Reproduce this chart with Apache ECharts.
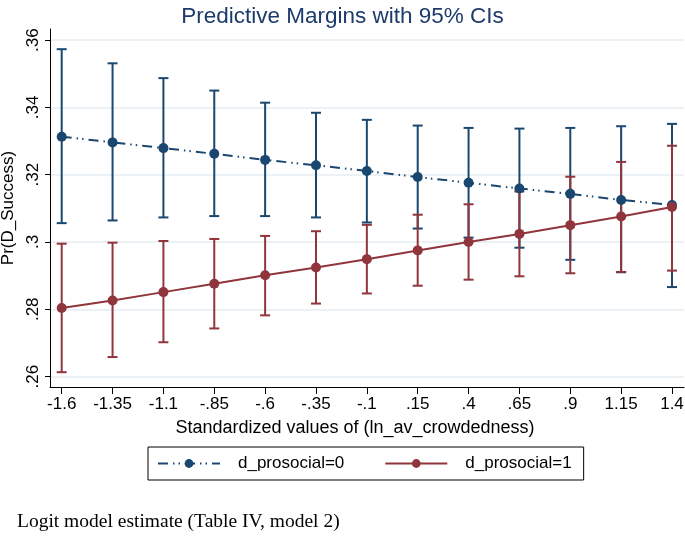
<!DOCTYPE html>
<html>
<head>
<meta charset="utf-8">
<script src="https://cdn.jsdelivr.net/npm/echarts@6/dist/echarts.min.js"></script>
<style>
  html, body { margin: 0; padding: 0; background: #fff; }
  #main { width: 685px; height: 537px; }
</style>
</head>
<body>
<div id="main"></div>
<script>
// x values (standardized ln_av_crowdedness) and their Stata-style labels
var xs = [-1.6, -1.35, -1.1, -0.85, -0.6, -0.35, -0.1, 0.15, 0.4, 0.65, 0.9, 1.15, 1.4];
var xLabels = ["-1.6", "-1.35", "-1.1", "-.85", "-.6", "-.35", "-.1", ".15", ".4", ".65", ".9", "1.15", "1.4"];
var yTicks = [0.26, 0.28, 0.30, 0.32, 0.34, 0.36];
var yLabels = [".26", ".28", ".3", ".32", ".34", ".36"];

// d_prosocial = 0
var est0 = [0.3313, 0.3296, 0.3279, 0.3262, 0.3244, 0.3228, 0.3211, 0.3193, 0.3176, 0.3159, 0.3143, 0.3125, 0.3110];
var lo0  = [0.3056, 0.3064, 0.3073, 0.3077, 0.3077, 0.3073, 0.3058, 0.3040, 0.3013, 0.2983, 0.2947, 0.2910, 0.2866];
var hi0  = [0.3573, 0.3531, 0.3487, 0.3450, 0.3414, 0.3384, 0.3363, 0.3346, 0.3339, 0.3337, 0.3339, 0.3344, 0.3351];

// d_prosocial = 1
var est1 = [0.2804, 0.2826, 0.2851, 0.2876, 0.2901, 0.2924, 0.2949, 0.2975, 0.3000, 0.3024, 0.3050, 0.3076, 0.3104];
var lo1  = [0.2613, 0.2658, 0.2702, 0.2743, 0.2782, 0.2817, 0.2847, 0.2870, 0.2888, 0.2898, 0.2907, 0.2911, 0.2915];
var hi1  = [0.2995, 0.2998, 0.3003, 0.3009, 0.3018, 0.3032, 0.3051, 0.3081, 0.3112, 0.3150, 0.3194, 0.3238, 0.3286];

var navy = "#1a476f";
var maroon = "#90353b";
var font = "Liberation Sans, Arial, sans-serif";

function pairs(ys) {
  return xs.map(function (x, i) { return [x, ys[i]]; });
}
function ciData(lo, hi) {
  return xs.map(function (x, i) { return [x, lo[i], hi[i]]; });
}

// vertical range bar with caps
function rcap(color) {
  return function (params, api) {
    var x = api.value(0);
    var a = api.coord([x, api.value(1)]);
    var b = api.coord([x, api.value(2)]);
    var hw = 5;
    var st = { stroke: color, lineWidth: 2 };
    return {
      type: "group",
      children: [
        { type: "line", shape: { x1: a[0], y1: a[1], x2: b[0], y2: b[1] }, style: st },
        { type: "line", shape: { x1: a[0] - hw, y1: a[1], x2: a[0] + hw, y2: a[1] }, style: st },
        { type: "line", shape: { x1: b[0] - hw, y1: b[1], x2: b[0] + hw, y2: b[1] }, style: st }
      ]
    };
  };
}

var chart = echarts.init(document.getElementById("main"));

chart.setOption({
  backgroundColor: "#fff",
  animation: false,
  title: [
    {
      text: "Predictive Margins with 95% CIs",
      left: "center",
      top: 0,
      textStyle: { fontFamily: font, fontSize: 22.5, fontWeight: "normal", color: "#1c3b6b" }
    },
    {
      text: "Logit model estimate (Table IV, model 2)",
      left: 12,
      top: 507,
      textStyle: { fontFamily: "Liberation Serif, Times New Roman, serif", fontSize: 19.5, fontWeight: "normal", color: "#000" }
    }
  ],
  grid: { left: 50, right: 1, top: 29, bottom: 150, outerBoundsMode: "none", containLabel: false },
  xAxis: {
    type: "value",
    min: -1.6575,
    max: 1.459,
    name: "Standardized values of (ln_av_crowdedness)",
    nameLocation: "middle",
    nameGap: 32,
    nameTextStyle: { fontFamily: font, fontSize: 18, color: "#000", padding: [0, 24, 0, 0] },
    axisLine: { show: true, onZero: false, lineStyle: { color: "#000", width: 1 } },
    axisTick: { show: true, customValues: xs, length: 7, lineStyle: { color: "#000" } },
    axisLabel: {
      customValues: xs,
      fontFamily: font,
      fontSize: 17,
      color: "#000",
      margin: 9,
      formatter: function (v) {
        var i = xs.findIndex(function (x) { return Math.abs(x - v) < 1e-6; });
        return i >= 0 ? xLabels[i] : "";
      }
    },
    splitLine: { show: false }
  },
  yAxis: {
    type: "value",
    min: 0.2569,
    max: 0.3633,
    name: "Pr(D_Success)",
    nameLocation: "middle",
    nameRotate: 90,
    nameGap: 25,
    nameTextStyle: { fontFamily: font, fontSize: 17, color: "#000" },
    axisLine: { show: true, onZero: false, lineStyle: { color: "#000", width: 1 } },
    axisTick: { show: true, customValues: yTicks, length: 5, lineStyle: { color: "#000" } },
    axisLabel: {
      customValues: yTicks,
      rotate: 90,
      fontFamily: font,
      fontSize: 17,
      color: "#000",
      margin: 8,
      formatter: function (v) {
        var i = yTicks.findIndex(function (t) { return Math.abs(t - v) < 1e-6; });
        return i >= 0 ? yLabels[i] : "";
      }
    },
    splitLine: { show: true, lineStyle: { color: "#e4edf0", width: 1.5 } }
  },
  legend: {
    data: ["d_prosocial=0", "d_prosocial=1"],
    left: 148,
    top: 447,
    padding: [8, 12, 8, 9],
    itemWidth: 62,
    itemHeight: 11,
    itemGap: 40,
    borderColor: "#000",
    borderWidth: 1,
    textStyle: { fontFamily: font, fontSize: 17, color: "#000", padding: [0, 0, 0, 13] }
  },
  series: [
    {
      type: "custom",
      name: "ci0",
      renderItem: rcap(navy),
      encode: { x: 0, y: [1, 2] },
      data: ciData(lo0, hi0),
      z: 1
    },
    {
      type: "custom",
      name: "ci1",
      renderItem: rcap(maroon),
      encode: { x: 0, y: [1, 2] },
      data: ciData(lo1, hi1),
      z: 2
    },
    {
      type: "line",
      name: "d_prosocial=0",
      data: pairs(est0),
      symbol: "circle",
      symbolSize: 10,
      itemStyle: { color: navy },
      lineStyle: { color: navy, width: 2, type: [10, 5, 1.5, 4, 1.5, 5] },
      z: 3
    },
    {
      type: "line",
      name: "d_prosocial=1",
      data: pairs(est1),
      symbol: "circle",
      symbolSize: 10,
      itemStyle: { color: maroon },
      lineStyle: { color: maroon, width: 2 },
      z: 4
    }
  ]
});
</script>
</body>
</html>
